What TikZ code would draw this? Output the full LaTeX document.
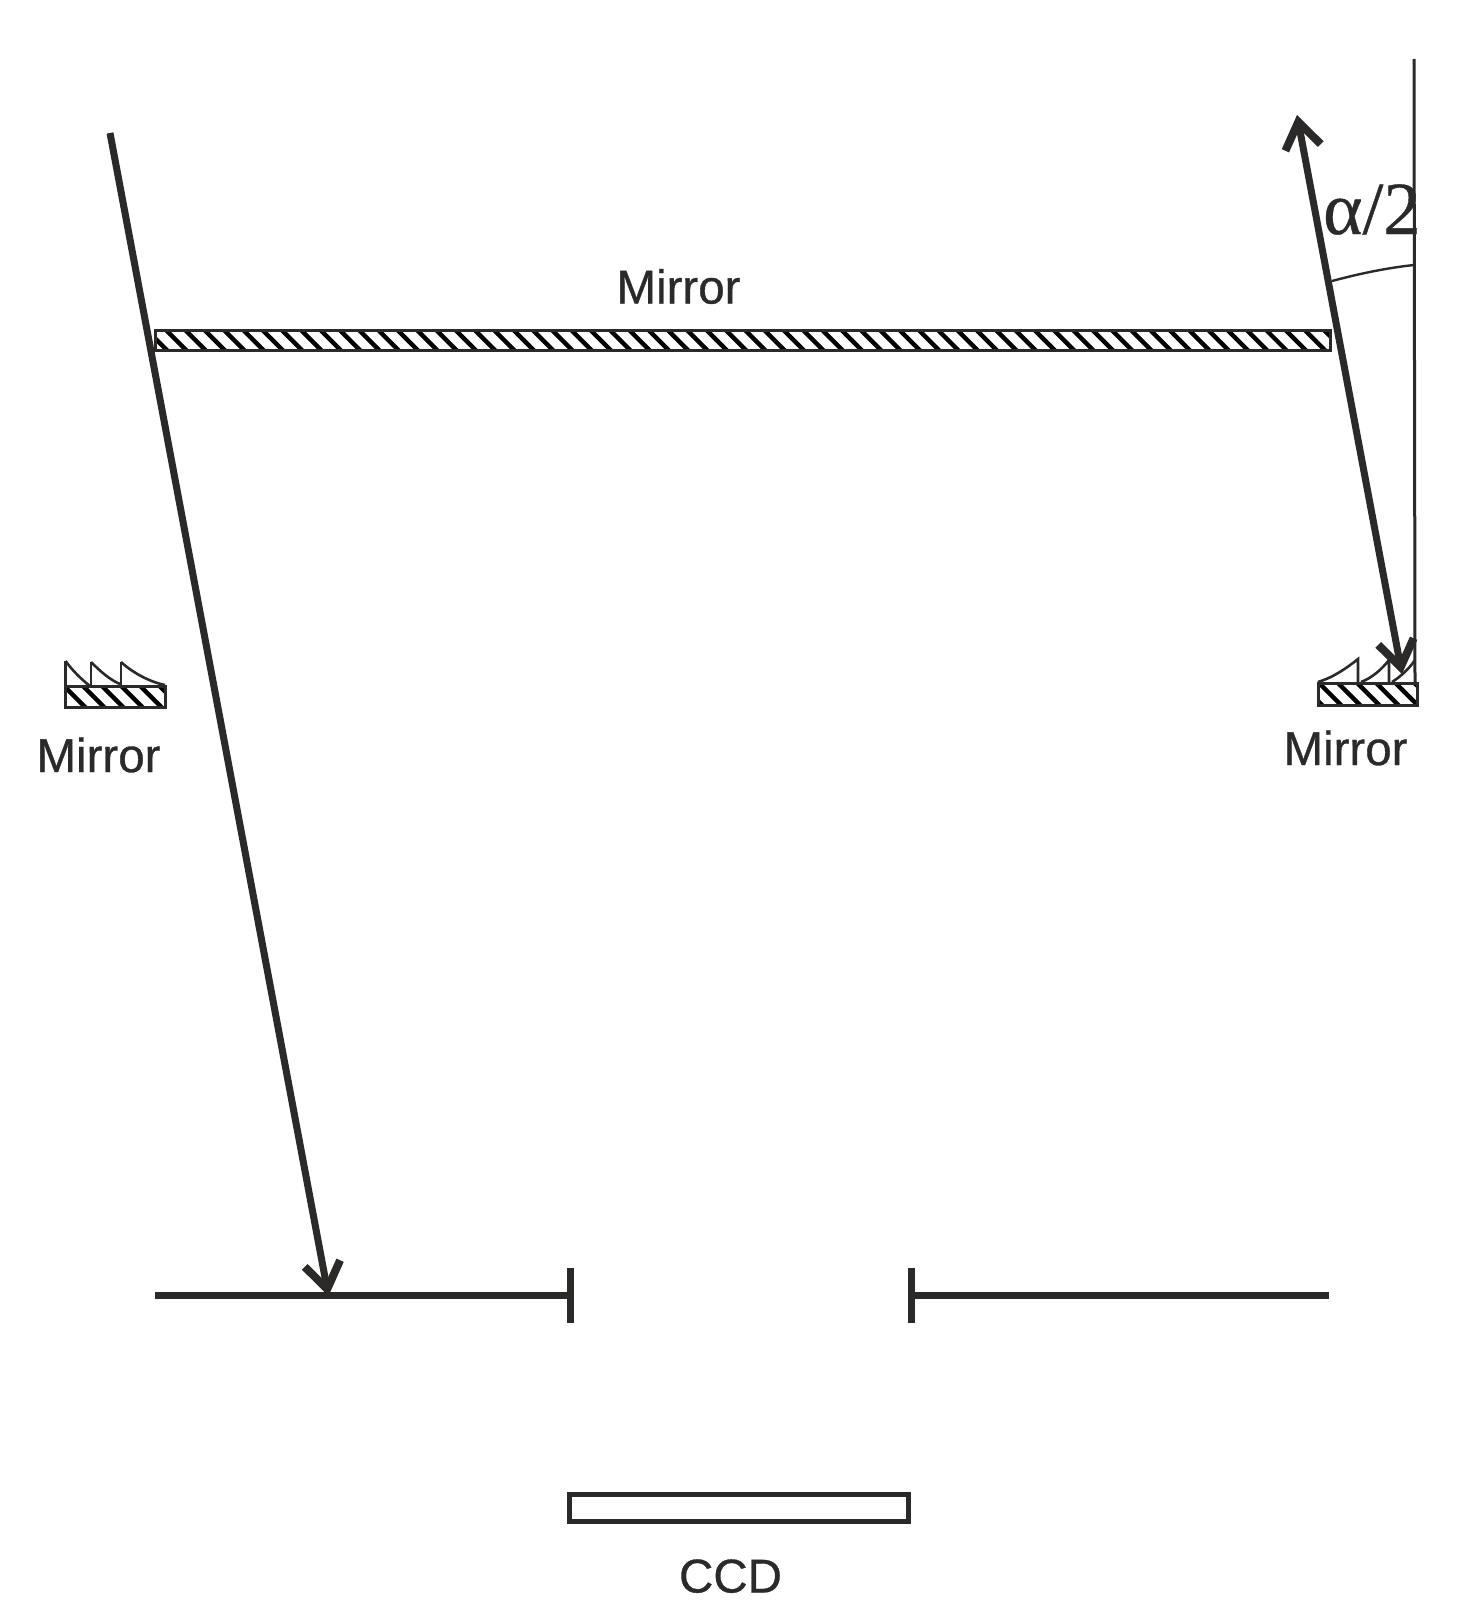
\documentclass[tikz,border=0pt]{standalone}
\usepackage{fontspec}
\setmainfont{Liberation Sans}[RawFeature={embolden=0.7}]
\newfontfamily\serifgreek{Liberation Serif}[RawFeature={embolden=0.5}]
\usetikzlibrary{arrows.meta}
\definecolor{ink}{HTML}{2B2A29}
\tikzset{
  x=1pt,y=-1pt,
  every node/.style={inner sep=0pt,outer sep=0pt,text=ink},
  label text/.style={anchor=base,font=\fontsize{47.5}{47.5}\selectfont},
  ray/.style={draw=ink,line width=7pt,-{Straight Barb[length=26pt,width=36pt,line width=8pt]}},
  dualray/.style={draw=ink,line width=7pt,{Straight Barb[length=26pt,width=36pt,line width=8pt]}-{Straight Barb[length=26pt,width=36pt,line width=8pt]}},
  thinline/.style={draw=ink,line width=3pt},
  plate/.style={draw=ink,line width=7pt},
  hatchstripe/.style={draw=black,line width=4.4pt},
  mirrorbox/.style={draw=ink,line width=3pt},
  tooth/.style={draw=ink,line width=2.6pt,line join=miter},
  ccdbox/.style={draw=ink,line width=5pt},
}
\begin{document}
\begin{tikzpicture}
\useasboundingbox (0,0) rectangle (1464,1614);
% coordinates
\coordinate (ls) at (110,133);
\coordinate (lt) at (328.5,1296);
\coordinate (ru) at (1297,115);
\coordinate (rd) at (1402,674);
\coordinate (vt) at (1414,59);
\coordinate (vb) at (1415,684);
\coordinate (a1) at (1332,281);
\coordinate (a2) at (1414,265);
% top mirror
\begin{scope}
\clip (155.5,330) rectangle (1330,350);
\foreach \k in {-1,0,...,61}{
  \draw[hatchstripe] ({165+19.3*\k},329) -- ({187+19.3*\k},351);
}
\end{scope}
\node[mirrorbox,minimum width=1174.5pt,minimum height=20pt,anchor=north west] (mtop) at (155.5,330) {};
% left mirror
\begin{scope}
\clip (65.5,686) rectangle (165,707);
\foreach \k in {-1,0,...,5}{
  \draw[hatchstripe] ({83+19.1*\k},686) -- ({105+19.1*\k},708);
}
\end{scope}
\node[mirrorbox,minimum width=99.5pt,minimum height=21pt,anchor=north west] (mleft) at (65.5,686) {};
\draw[tooth] (65.5,661) .. controls (72,670) and (82,680) .. (90,686);
\draw[tooth] (65.5,661) -- (65.5,686);
\draw[tooth] (91,662) -- (91,686);
\draw[tooth] (91,662) .. controls (100,671) and (110,680) .. (120,684);
\draw[tooth] (121,662) -- (121,685);
\draw[tooth] (121,662) .. controls (133,673) and (150,682) .. (165,685);
% right mirror
\begin{scope}
\clip (1318,683) rectangle (1417,705);
\foreach \k in {-1,0,...,6}{
  \draw[hatchstripe] ({1319+19.1*\k},683) -- ({1342+19.1*\k},706);
}
\end{scope}
\node[mirrorbox,minimum width=99pt,minimum height=22pt,anchor=north west] (mright) at (1318,683) {};
\draw[tooth] (1318,682) .. controls (1332,678) and (1347,668) .. (1358,659) -- (1358,682);
\draw[tooth] (1361,682) .. controls (1372,678) and (1382,669) .. (1389,660) -- (1389,682);
\draw[tooth] (1392,682) .. controls (1400,677) and (1409,669) .. (1415,660);
% vertical reference line
\draw[thinline] (vt) -- (vb);
% rays
\draw[ray] (ls) -- (lt);
\draw[dualray] (rd) -- (ru);
% angle arc
\draw[draw=ink,line width=2.4pt] (a1) .. controls (1358,274) and (1386,268) .. (a2);
% slit plates
\coordinate (pl1) at (155,1295.5);
\coordinate (pl2) at (570.5,1295.5);
\coordinate (pr1) at (911.5,1295.5);
\coordinate (pr2) at (1329,1295.5);
\draw[plate] (pl1) -- (pl2);
\draw[plate] (pr1) -- (pr2);
\draw[plate] (570.5,1268) -- (570.5,1323);
\draw[plate] (911.5,1268) -- (911.5,1323);
% CCD
\node[ccdbox,minimum width=339pt,minimum height=27pt,anchor=north west] (ccd) at (569.5,1494.5) {};
% labels
\node[label text] (t1) at (678.5,303.5) {Mirror};
\node[label text] (t2) at (98.5,772) {Mirror};
\node[label text] (t3) at (1345.5,765) {Mirror};
\node[label text] (t4) at (730.5,1592.5) {CCD};
\node[anchor=base,font=\fontsize{75}{75}\selectfont\serifgreek] (t5) at (1372,234) {α/2};
\end{tikzpicture}
\end{document}
